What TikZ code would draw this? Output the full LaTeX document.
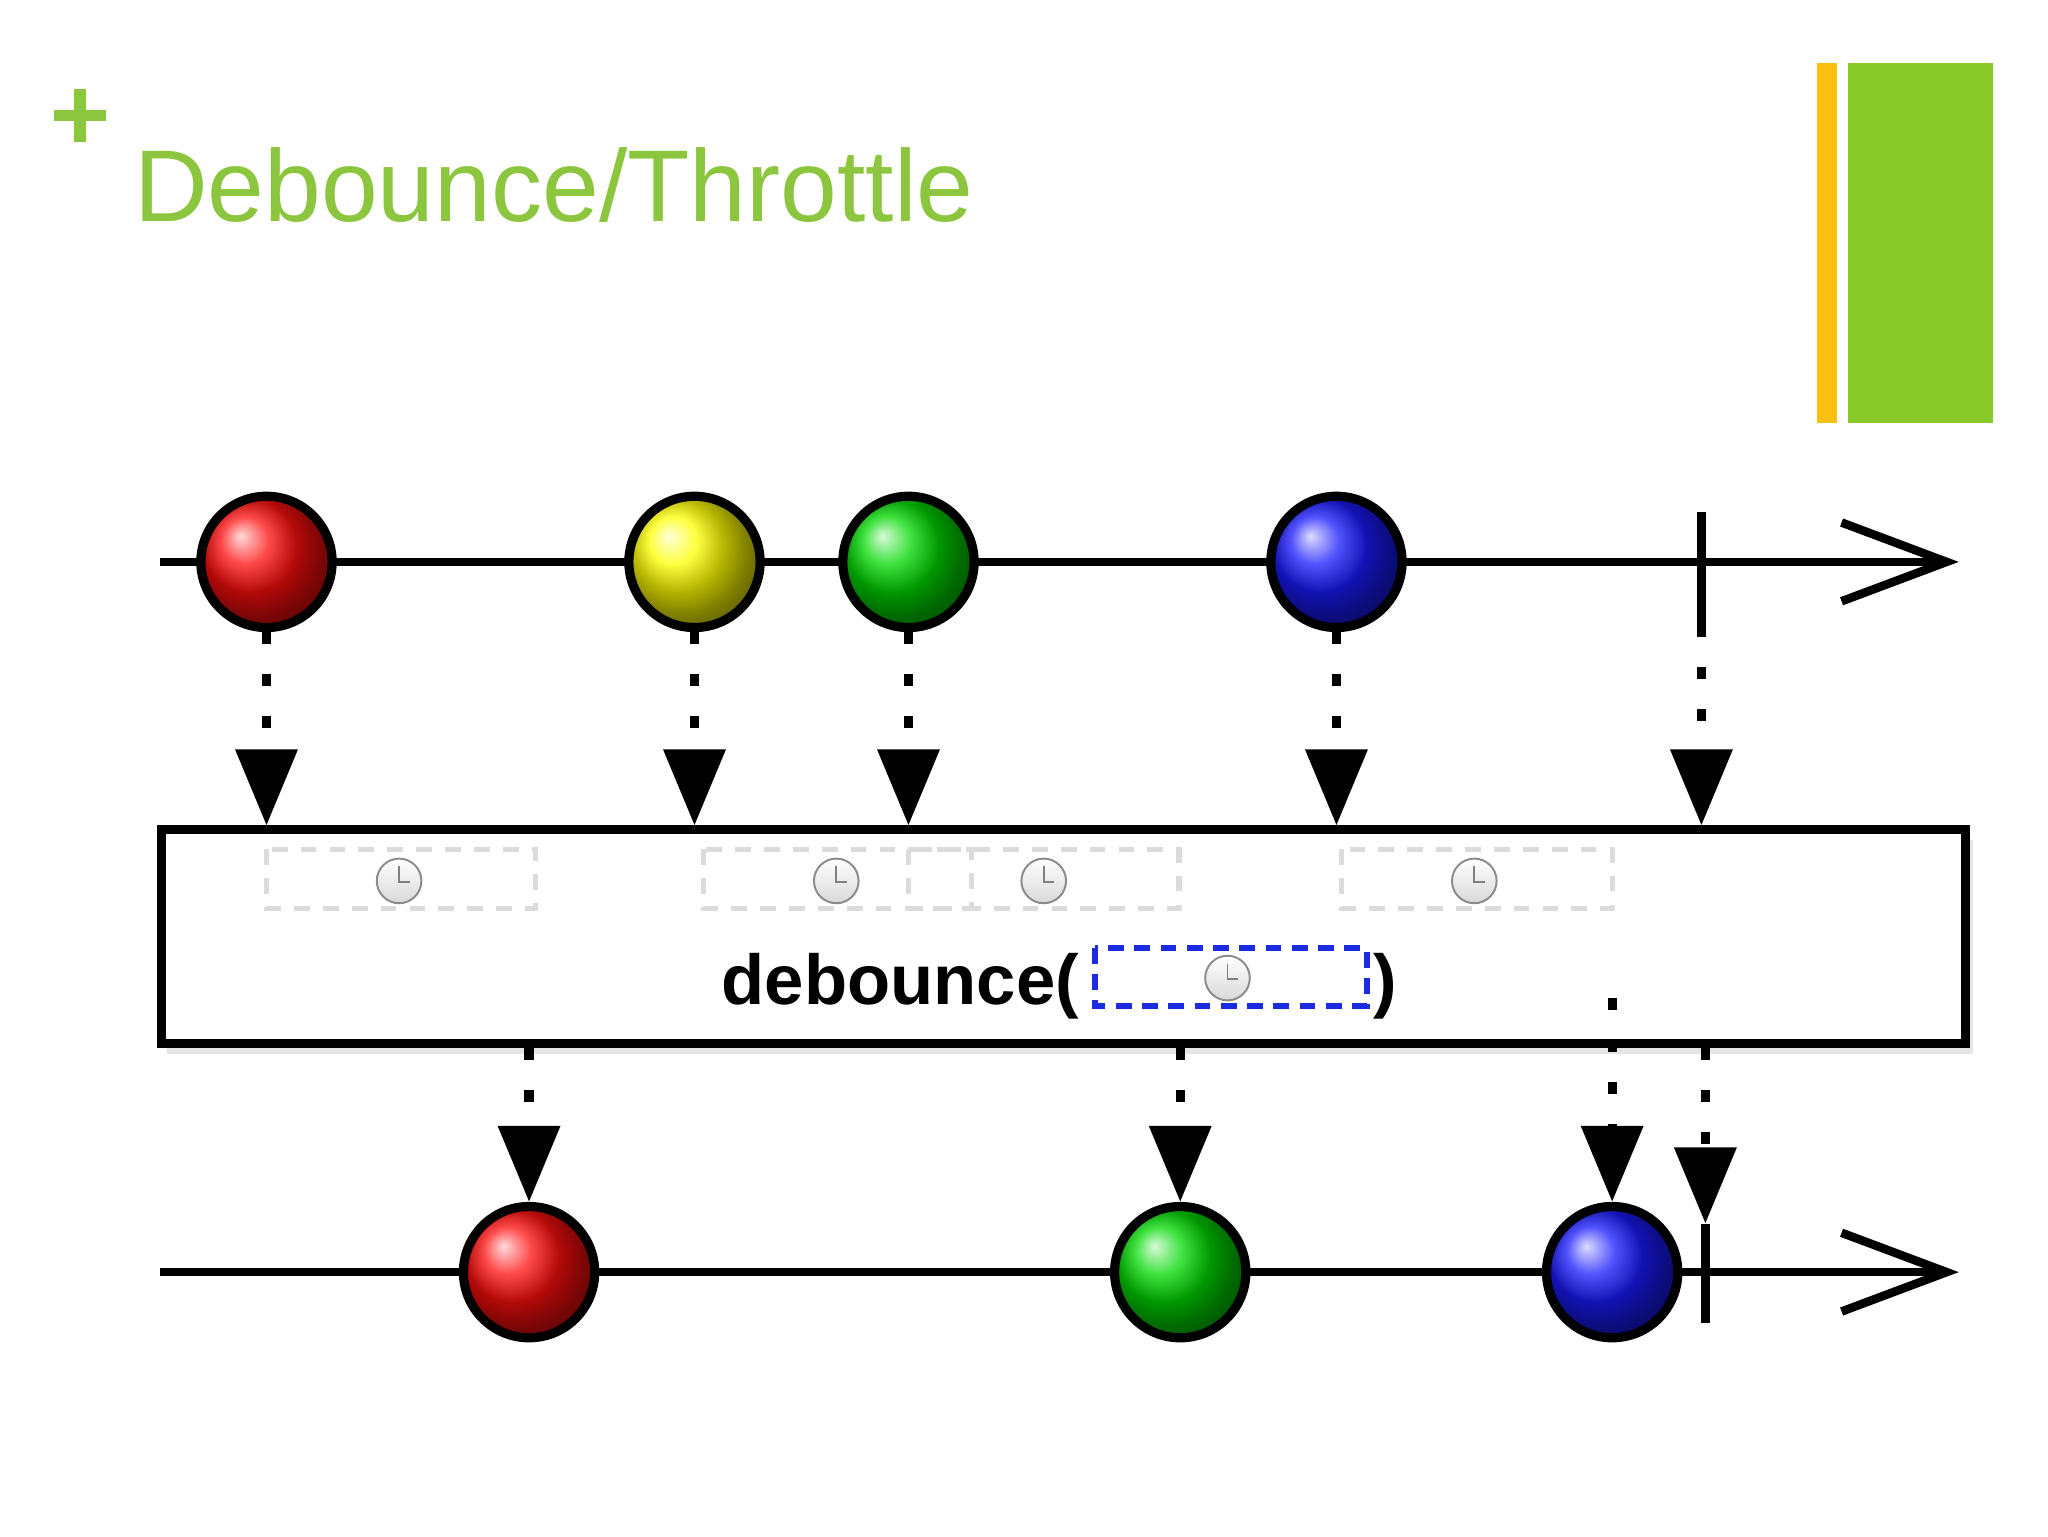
\documentclass[tikz,border=0pt]{standalone}
\usepackage{fontspec}
\setmainfont{Liberation Sans}
\usetikzlibrary{arrows.meta}
\definecolor{tgreen}{HTML}{8CC63F}
\definecolor{bgreen}{HTML}{88C928}
\definecolor{byellow}{HTML}{F9C00F}
\definecolor{dblue}{HTML}{1A2BE0}
\begin{document}
\begin{tikzpicture}[x=1bp,y=-1bp,
  ball/.style={circle,draw=black,line width=7bp,minimum size=100bp,inner sep=0pt,shading=ball},
  flow/.style={line width=7bp,dash pattern=on 9bp off 23bp,-{Triangle[length=58bp,width=46bp]}},
  axis/.style={line width=6.5bp,-{Straight Barb[length=80bp,width=60bp,line width=6.5bp]}},
  tickmark/.style={line width=6.5bp},
  win/.style={draw=black!14,line width=4bp,dash pattern=on 12bp off 10bp},
  clock/.style={circle,draw=black!45,line width=1.5bp,minimum size=34bp,inner sep=0pt,
     top color=white,bottom color=black!15}]
\useasboundingbox (0,0) rectangle (1560,1170);
\fill[white] (0,0) rectangle (1560,1170);
% header
\node (plus) at (60,88) {};
\draw[tgreen,line width=9bp] (41,88) -- (81,88) (61,68) -- (61,108);
\node[anchor=base west,text=tgreen,font=\fontsize{78}{90}\selectfont,inner sep=0pt] (title) at (102,169) {Debounce/Throttle};
\fill[byellow] (1384,48) rectangle (1399,322);
\fill[bgreen] (1408,48) rectangle (1518,322);
% top axis
\coordinate (ta0) at (122,428);
\coordinate (ta1) at (1492,428);
\draw[axis] (ta0) -- (ta1);
\coordinate (tt0) at (1296,390); \coordinate (tt1) at (1296,476);
\draw[tickmark] (tt0) -- (tt1);
\node[ball,ball color=red!95!white] (t1) at (203,428) {};
\node[ball,ball color=yellow] (t2) at (529,428) {};
\node[ball,ball color=green!85!black] (t3) at (692,428) {};
\node[ball,ball color=blue!90!white] (t4) at (1018,428) {};
% box
\fill[black!20,opacity=0.5] (127,640) rectangle (1503,803);
\node[draw=black,line width=6.5bp,fill=white,minimum width=1374bp,minimum height=163bp,inner sep=0pt] (box) at (810,713.5) {};
\draw[flow] (t1.south) -- (t1.south |- box.north);
\draw[flow] (t2.south) -- (t2.south |- box.north);
\draw[flow] (t3.south) -- (t3.south |- box.north);
\draw[flow] (t4.south) -- (t4.south |- box.north);
\draw[flow] (tt1) -- (tt1 |- box.north);
% windows
\draw[win] (203,647) rectangle (408,692);
\draw[win] (536,647) rectangle (740,692);
\draw[win] (692,647) rectangle (898,692);
\draw[win] (1022,647) rectangle (1228,692);
\foreach \n/\x in {c1/304,c2/637,c3/795,c4/1123}{
  \node[clock] (\n) at (\x,671) {};
  \draw[black!50,line width=1.5bp] (\x,660) -- (\x,672) -- (\x+8,672);
}
% label
\node[anchor=base east,font=\bfseries\fontsize{54}{60}\selectfont,inner sep=0pt] (lab) at (822,765) {debounce(};
\draw[dblue,line width=4.5bp,dash pattern=on 12bp off 8bp] (834,722) rectangle (1041,766);
\node[clock] (c5) at (935,745) {};
\draw[black!50,line width=1.5bp] (935,734) -- (935,746) -- (943,746);
\node[anchor=base west,font=\bfseries\fontsize{54}{60}\selectfont,inner sep=0pt] (rp) at (1046,765) {)};
% bottom axis
\coordinate (ba0) at (122,969);
\coordinate (ba1) at (1492,969);
\draw[axis] (ba0) -- (ba1);
\coordinate (bt0) at (1299,932); \coordinate (bt1) at (1299,1008);
\draw[tickmark] (bt0) -- (bt1);
\node[ball,ball color=red!95!white] (o1) at (403,969) {};
\node[ball,ball color=green!85!black] (o2) at (899,969) {};
\node[ball,ball color=blue!90!white] (o3) at (1228,969) {};
\draw[flow] (o1.north |- box.south) -- (o1.north);
\draw[flow] (o2.north |- box.south) -- (o2.north);
\coordinate (s3) at (1228,760);
\draw[flow] (s3) -- (o3.north);
\draw[flow] (bt0 |- box.south) -- (bt0);
\end{tikzpicture}
\end{document}
